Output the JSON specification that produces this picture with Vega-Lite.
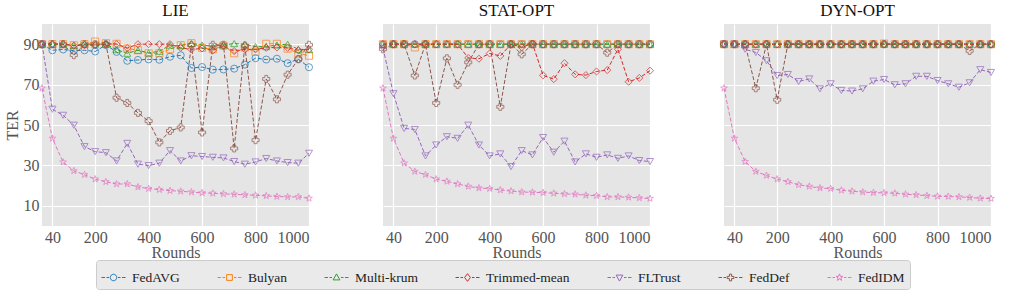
{
"$schema": "https://vega.github.io/schema/vega-lite/v6.json",
"padding": {"left": 4, "top": 2, "right": 4, "bottom": 4},
"bounds": "flush",
"spacing": 74,
"config": {
  "font": "Liberation Serif, Times New Roman, serif",
  "view": {"fill": "#e5e5e5", "stroke": null},
  "axis": {"labelFont": "Liberation Serif, Times New Roman, serif", "titleFont": "Liberation Serif, Times New Roman, serif", "labelFontSize": 16, "titleFontSize": 16, "labelColor": "#555555", "titleColor": "#555555", "titleFontWeight": "normal", "grid": true, "gridColor": "#ffffff", "gridWidth": 1.2, "domain": false, "ticks": false, "labelPadding": 3},
  "axisX": {"titlePadding": -1},
  "axisY": {"titlePadding": 3},
  "legend": {"labelFont": "Liberation Serif, Times New Roman, serif"},
  "title": {"font": "Liberation Serif, Times New Roman, serif", "fontSize": 17, "fontWeight": "normal", "color": "#111111", "offset": 4}
},
"data": {"values": [
{"panel":"LIE","method":"FedAVG","round":1,"ter":89.8},{"panel":"LIE","method":"FedAVG","round":40,"ter":87.0},{"panel":"LIE","method":"FedAVG","round":80,"ter":87.4},{"panel":"LIE","method":"FedAVG","round":120,"ter":86.8},{"panel":"LIE","method":"FedAVG","round":160,"ter":87.0},{"panel":"LIE","method":"FedAVG","round":200,"ter":86.4},{"panel":"LIE","method":"FedAVG","round":240,"ter":89.6},{"panel":"LIE","method":"FedAVG","round":280,"ter":86.2},{"panel":"LIE","method":"FedAVG","round":320,"ter":81.8},{"panel":"LIE","method":"FedAVG","round":360,"ter":82.2},{"panel":"LIE","method":"FedAVG","round":400,"ter":82.5},{"panel":"LIE","method":"FedAVG","round":440,"ter":82.3},{"panel":"LIE","method":"FedAVG","round":480,"ter":83.8},{"panel":"LIE","method":"FedAVG","round":520,"ter":84.5},{"panel":"LIE","method":"FedAVG","round":560,"ter":78.2},{"panel":"LIE","method":"FedAVG","round":600,"ter":78.7},{"panel":"LIE","method":"FedAVG","round":640,"ter":77.4},{"panel":"LIE","method":"FedAVG","round":680,"ter":77.5},{"panel":"LIE","method":"FedAVG","round":720,"ter":77.9},{"panel":"LIE","method":"FedAVG","round":760,"ter":79.9},{"panel":"LIE","method":"FedAVG","round":800,"ter":83.1},{"panel":"LIE","method":"FedAVG","round":840,"ter":82.4},{"panel":"LIE","method":"FedAVG","round":880,"ter":82.8},{"panel":"LIE","method":"FedAVG","round":920,"ter":80.6},{"panel":"LIE","method":"FedAVG","round":960,"ter":82.6},{"panel":"LIE","method":"FedAVG","round":1000,"ter":78.6},
{"panel":"LIE","method":"Bulyan","round":1,"ter":90.0},{"panel":"LIE","method":"Bulyan","round":40,"ter":90.0},{"panel":"LIE","method":"Bulyan","round":80,"ter":90.0},{"panel":"LIE","method":"Bulyan","round":120,"ter":89.5},{"panel":"LIE","method":"Bulyan","round":160,"ter":90.0},{"panel":"LIE","method":"Bulyan","round":200,"ter":91.3},{"panel":"LIE","method":"Bulyan","round":240,"ter":90.5},{"panel":"LIE","method":"Bulyan","round":280,"ter":90.2},{"panel":"LIE","method":"Bulyan","round":320,"ter":87.9},{"panel":"LIE","method":"Bulyan","round":360,"ter":87.0},{"panel":"LIE","method":"Bulyan","round":400,"ter":85.5},{"panel":"LIE","method":"Bulyan","round":440,"ter":85.5},{"panel":"LIE","method":"Bulyan","round":480,"ter":87.5},{"panel":"LIE","method":"Bulyan","round":520,"ter":89.5},{"panel":"LIE","method":"Bulyan","round":560,"ter":90.5},{"panel":"LIE","method":"Bulyan","round":600,"ter":88.2},{"panel":"LIE","method":"Bulyan","round":640,"ter":87.5},{"panel":"LIE","method":"Bulyan","round":680,"ter":89.3},{"panel":"LIE","method":"Bulyan","round":720,"ter":85.5},{"panel":"LIE","method":"Bulyan","round":760,"ter":88.3},{"panel":"LIE","method":"Bulyan","round":800,"ter":86.2},{"panel":"LIE","method":"Bulyan","round":840,"ter":90.2},{"panel":"LIE","method":"Bulyan","round":880,"ter":90.2},{"panel":"LIE","method":"Bulyan","round":920,"ter":87.8},{"panel":"LIE","method":"Bulyan","round":960,"ter":85.5},{"panel":"LIE","method":"Bulyan","round":1000,"ter":84.3},
{"panel":"LIE","method":"Multi-krum","round":1,"ter":90.0},{"panel":"LIE","method":"Multi-krum","round":40,"ter":90.0},{"panel":"LIE","method":"Multi-krum","round":80,"ter":90.0},{"panel":"LIE","method":"Multi-krum","round":120,"ter":89.3},{"panel":"LIE","method":"Multi-krum","round":160,"ter":90.0},{"panel":"LIE","method":"Multi-krum","round":200,"ter":90.0},{"panel":"LIE","method":"Multi-krum","round":240,"ter":90.0},{"panel":"LIE","method":"Multi-krum","round":280,"ter":87.3},{"panel":"LIE","method":"Multi-krum","round":320,"ter":85.5},{"panel":"LIE","method":"Multi-krum","round":360,"ter":87.0},{"panel":"LIE","method":"Multi-krum","round":400,"ter":85.7},{"panel":"LIE","method":"Multi-krum","round":440,"ter":86.5},{"panel":"LIE","method":"Multi-krum","round":480,"ter":89.5},{"panel":"LIE","method":"Multi-krum","round":520,"ter":89.3},{"panel":"LIE","method":"Multi-krum","round":560,"ter":90.4},{"panel":"LIE","method":"Multi-krum","round":600,"ter":89.6},{"panel":"LIE","method":"Multi-krum","round":640,"ter":89.0},{"panel":"LIE","method":"Multi-krum","round":680,"ter":89.6},{"panel":"LIE","method":"Multi-krum","round":720,"ter":90.3},{"panel":"LIE","method":"Multi-krum","round":760,"ter":90.0},{"panel":"LIE","method":"Multi-krum","round":800,"ter":88.8},{"panel":"LIE","method":"Multi-krum","round":840,"ter":88.8},{"panel":"LIE","method":"Multi-krum","round":880,"ter":89.6},{"panel":"LIE","method":"Multi-krum","round":920,"ter":90.0},{"panel":"LIE","method":"Multi-krum","round":960,"ter":87.5},{"panel":"LIE","method":"Multi-krum","round":1000,"ter":87.3},
{"panel":"LIE","method":"Trimmed-mean","round":1,"ter":90.0},{"panel":"LIE","method":"Trimmed-mean","round":40,"ter":90.0},{"panel":"LIE","method":"Trimmed-mean","round":80,"ter":90.0},{"panel":"LIE","method":"Trimmed-mean","round":120,"ter":89.3},{"panel":"LIE","method":"Trimmed-mean","round":160,"ter":89.6},{"panel":"LIE","method":"Trimmed-mean","round":200,"ter":89.5},{"panel":"LIE","method":"Trimmed-mean","round":240,"ter":90.0},{"panel":"LIE","method":"Trimmed-mean","round":280,"ter":90.0},{"panel":"LIE","method":"Trimmed-mean","round":320,"ter":88.1},{"panel":"LIE","method":"Trimmed-mean","round":360,"ter":90.0},{"panel":"LIE","method":"Trimmed-mean","round":400,"ter":90.0},{"panel":"LIE","method":"Trimmed-mean","round":440,"ter":90.0},{"panel":"LIE","method":"Trimmed-mean","round":480,"ter":90.0},{"panel":"LIE","method":"Trimmed-mean","round":520,"ter":88.2},{"panel":"LIE","method":"Trimmed-mean","round":560,"ter":87.4},{"panel":"LIE","method":"Trimmed-mean","round":600,"ter":87.9},{"panel":"LIE","method":"Trimmed-mean","round":640,"ter":86.9},{"panel":"LIE","method":"Trimmed-mean","round":680,"ter":89.0},{"panel":"LIE","method":"Trimmed-mean","round":720,"ter":86.6},{"panel":"LIE","method":"Trimmed-mean","round":760,"ter":87.5},{"panel":"LIE","method":"Trimmed-mean","round":800,"ter":87.4},{"panel":"LIE","method":"Trimmed-mean","round":840,"ter":88.2},{"panel":"LIE","method":"Trimmed-mean","round":880,"ter":88.4},{"panel":"LIE","method":"Trimmed-mean","round":920,"ter":88.2},{"panel":"LIE","method":"Trimmed-mean","round":960,"ter":87.0},{"panel":"LIE","method":"Trimmed-mean","round":1000,"ter":87.5},
{"panel":"LIE","method":"FLTrust","round":1,"ter":90.0},{"panel":"LIE","method":"FLTrust","round":40,"ter":57.8},{"panel":"LIE","method":"FLTrust","round":80,"ter":54.8},{"panel":"LIE","method":"FLTrust","round":120,"ter":49.9},{"panel":"LIE","method":"FLTrust","round":160,"ter":39.3},{"panel":"LIE","method":"FLTrust","round":200,"ter":36.8},{"panel":"LIE","method":"FLTrust","round":240,"ter":36.3},{"panel":"LIE","method":"FLTrust","round":280,"ter":32.2},{"panel":"LIE","method":"FLTrust","round":320,"ter":40.9},{"panel":"LIE","method":"FLTrust","round":360,"ter":30.6},{"panel":"LIE","method":"FLTrust","round":400,"ter":29.9},{"panel":"LIE","method":"FLTrust","round":440,"ter":31.1},{"panel":"LIE","method":"FLTrust","round":480,"ter":37.3},{"panel":"LIE","method":"FLTrust","round":520,"ter":32.2},{"panel":"LIE","method":"FLTrust","round":560,"ter":34.8},{"panel":"LIE","method":"FLTrust","round":600,"ter":34.4},{"panel":"LIE","method":"FLTrust","round":640,"ter":34.0},{"panel":"LIE","method":"FLTrust","round":680,"ter":33.7},{"panel":"LIE","method":"FLTrust","round":720,"ter":31.9},{"panel":"LIE","method":"FLTrust","round":760,"ter":30.6},{"panel":"LIE","method":"FLTrust","round":800,"ter":31.7},{"panel":"LIE","method":"FLTrust","round":840,"ter":33.4},{"panel":"LIE","method":"FLTrust","round":880,"ter":32.2},{"panel":"LIE","method":"FLTrust","round":920,"ter":31.4},{"panel":"LIE","method":"FLTrust","round":960,"ter":31.1},{"panel":"LIE","method":"FLTrust","round":1000,"ter":36.0},
{"panel":"LIE","method":"FedDef","round":1,"ter":90.0},{"panel":"LIE","method":"FedDef","round":40,"ter":90.0},{"panel":"LIE","method":"FedDef","round":80,"ter":90.0},{"panel":"LIE","method":"FedDef","round":120,"ter":84.6},{"panel":"LIE","method":"FedDef","round":160,"ter":90.0},{"panel":"LIE","method":"FedDef","round":200,"ter":90.0},{"panel":"LIE","method":"FedDef","round":240,"ter":90.0},{"panel":"LIE","method":"FedDef","round":280,"ter":63.5},{"panel":"LIE","method":"FedDef","round":320,"ter":60.9},{"panel":"LIE","method":"FedDef","round":360,"ter":56.0},{"panel":"LIE","method":"FedDef","round":400,"ter":51.9},{"panel":"LIE","method":"FedDef","round":440,"ter":41.4},{"panel":"LIE","method":"FedDef","round":480,"ter":47.1},{"panel":"LIE","method":"FedDef","round":520,"ter":48.8},{"panel":"LIE","method":"FedDef","round":560,"ter":89.5},{"panel":"LIE","method":"FedDef","round":600,"ter":46.3},{"panel":"LIE","method":"FedDef","round":640,"ter":89.7},{"panel":"LIE","method":"FedDef","round":680,"ter":89.7},{"panel":"LIE","method":"FedDef","round":720,"ter":38.4},{"panel":"LIE","method":"FedDef","round":760,"ter":89.3},{"panel":"LIE","method":"FedDef","round":800,"ter":42.5},{"panel":"LIE","method":"FedDef","round":840,"ter":72.8},{"panel":"LIE","method":"FedDef","round":880,"ter":62.7},{"panel":"LIE","method":"FedDef","round":920,"ter":74.9},{"panel":"LIE","method":"FedDef","round":960,"ter":82.6},{"panel":"LIE","method":"FedDef","round":1000,"ter":89.7},
{"panel":"LIE","method":"FedIDM","round":1,"ter":68.2},{"panel":"LIE","method":"FedIDM","round":40,"ter":43.4},{"panel":"LIE","method":"FedIDM","round":80,"ter":31.6},{"panel":"LIE","method":"FedIDM","round":120,"ter":27.3},{"panel":"LIE","method":"FedIDM","round":160,"ter":25.4},{"panel":"LIE","method":"FedIDM","round":200,"ter":23.2},{"panel":"LIE","method":"FedIDM","round":240,"ter":21.9},{"panel":"LIE","method":"FedIDM","round":280,"ter":20.8},{"panel":"LIE","method":"FedIDM","round":320,"ter":20.8},{"panel":"LIE","method":"FedIDM","round":360,"ter":19.3},{"panel":"LIE","method":"FedIDM","round":400,"ter":18.5},{"panel":"LIE","method":"FedIDM","round":440,"ter":18.0},{"panel":"LIE","method":"FedIDM","round":480,"ter":17.5},{"panel":"LIE","method":"FedIDM","round":520,"ter":17.2},{"panel":"LIE","method":"FedIDM","round":560,"ter":16.8},{"panel":"LIE","method":"FedIDM","round":600,"ter":16.4},{"panel":"LIE","method":"FedIDM","round":640,"ter":16.2},{"panel":"LIE","method":"FedIDM","round":680,"ter":15.9},{"panel":"LIE","method":"FedIDM","round":720,"ter":15.7},{"panel":"LIE","method":"FedIDM","round":760,"ter":15.4},{"panel":"LIE","method":"FedIDM","round":800,"ter":15.2},{"panel":"LIE","method":"FedIDM","round":840,"ter":14.9},{"panel":"LIE","method":"FedIDM","round":880,"ter":14.6},{"panel":"LIE","method":"FedIDM","round":920,"ter":14.4},{"panel":"LIE","method":"FedIDM","round":960,"ter":14.4},{"panel":"LIE","method":"FedIDM","round":1000,"ter":13.7},
{"panel":"STAT-OPT","method":"FedAVG","round":1,"ter":90.0},{"panel":"STAT-OPT","method":"FedAVG","round":40,"ter":90.0},{"panel":"STAT-OPT","method":"FedAVG","round":80,"ter":90.0},{"panel":"STAT-OPT","method":"FedAVG","round":120,"ter":90.0},{"panel":"STAT-OPT","method":"FedAVG","round":160,"ter":90.0},{"panel":"STAT-OPT","method":"FedAVG","round":200,"ter":90.0},{"panel":"STAT-OPT","method":"FedAVG","round":240,"ter":90.0},{"panel":"STAT-OPT","method":"FedAVG","round":280,"ter":90.0},{"panel":"STAT-OPT","method":"FedAVG","round":320,"ter":90.0},{"panel":"STAT-OPT","method":"FedAVG","round":360,"ter":90.0},{"panel":"STAT-OPT","method":"FedAVG","round":400,"ter":90.0},{"panel":"STAT-OPT","method":"FedAVG","round":440,"ter":90.0},{"panel":"STAT-OPT","method":"FedAVG","round":480,"ter":90.0},{"panel":"STAT-OPT","method":"FedAVG","round":520,"ter":90.0},{"panel":"STAT-OPT","method":"FedAVG","round":560,"ter":90.0},{"panel":"STAT-OPT","method":"FedAVG","round":600,"ter":90.0},{"panel":"STAT-OPT","method":"FedAVG","round":640,"ter":90.0},{"panel":"STAT-OPT","method":"FedAVG","round":680,"ter":90.0},{"panel":"STAT-OPT","method":"FedAVG","round":720,"ter":90.0},{"panel":"STAT-OPT","method":"FedAVG","round":760,"ter":90.0},{"panel":"STAT-OPT","method":"FedAVG","round":800,"ter":90.0},{"panel":"STAT-OPT","method":"FedAVG","round":840,"ter":90.0},{"panel":"STAT-OPT","method":"FedAVG","round":880,"ter":90.0},{"panel":"STAT-OPT","method":"FedAVG","round":920,"ter":90.0},{"panel":"STAT-OPT","method":"FedAVG","round":960,"ter":90.0},{"panel":"STAT-OPT","method":"FedAVG","round":1000,"ter":90.0},
{"panel":"STAT-OPT","method":"Bulyan","round":1,"ter":90.0},{"panel":"STAT-OPT","method":"Bulyan","round":40,"ter":90.0},{"panel":"STAT-OPT","method":"Bulyan","round":80,"ter":90.0},{"panel":"STAT-OPT","method":"Bulyan","round":120,"ter":88.4},{"panel":"STAT-OPT","method":"Bulyan","round":160,"ter":90.0},{"panel":"STAT-OPT","method":"Bulyan","round":200,"ter":90.0},{"panel":"STAT-OPT","method":"Bulyan","round":240,"ter":90.0},{"panel":"STAT-OPT","method":"Bulyan","round":280,"ter":90.0},{"panel":"STAT-OPT","method":"Bulyan","round":320,"ter":90.0},{"panel":"STAT-OPT","method":"Bulyan","round":360,"ter":90.0},{"panel":"STAT-OPT","method":"Bulyan","round":400,"ter":90.0},{"panel":"STAT-OPT","method":"Bulyan","round":440,"ter":90.0},{"panel":"STAT-OPT","method":"Bulyan","round":480,"ter":90.0},{"panel":"STAT-OPT","method":"Bulyan","round":520,"ter":90.0},{"panel":"STAT-OPT","method":"Bulyan","round":560,"ter":90.0},{"panel":"STAT-OPT","method":"Bulyan","round":600,"ter":90.0},{"panel":"STAT-OPT","method":"Bulyan","round":640,"ter":90.0},{"panel":"STAT-OPT","method":"Bulyan","round":680,"ter":90.0},{"panel":"STAT-OPT","method":"Bulyan","round":720,"ter":90.0},{"panel":"STAT-OPT","method":"Bulyan","round":760,"ter":90.0},{"panel":"STAT-OPT","method":"Bulyan","round":800,"ter":90.0},{"panel":"STAT-OPT","method":"Bulyan","round":840,"ter":90.0},{"panel":"STAT-OPT","method":"Bulyan","round":880,"ter":90.0},{"panel":"STAT-OPT","method":"Bulyan","round":920,"ter":90.0},{"panel":"STAT-OPT","method":"Bulyan","round":960,"ter":90.0},{"panel":"STAT-OPT","method":"Bulyan","round":1000,"ter":90.0},
{"panel":"STAT-OPT","method":"Multi-krum","round":1,"ter":90.0},{"panel":"STAT-OPT","method":"Multi-krum","round":40,"ter":90.0},{"panel":"STAT-OPT","method":"Multi-krum","round":80,"ter":90.0},{"panel":"STAT-OPT","method":"Multi-krum","round":120,"ter":90.0},{"panel":"STAT-OPT","method":"Multi-krum","round":160,"ter":90.0},{"panel":"STAT-OPT","method":"Multi-krum","round":200,"ter":90.0},{"panel":"STAT-OPT","method":"Multi-krum","round":240,"ter":90.0},{"panel":"STAT-OPT","method":"Multi-krum","round":280,"ter":90.0},{"panel":"STAT-OPT","method":"Multi-krum","round":320,"ter":90.0},{"panel":"STAT-OPT","method":"Multi-krum","round":360,"ter":90.0},{"panel":"STAT-OPT","method":"Multi-krum","round":400,"ter":90.0},{"panel":"STAT-OPT","method":"Multi-krum","round":440,"ter":90.0},{"panel":"STAT-OPT","method":"Multi-krum","round":480,"ter":90.0},{"panel":"STAT-OPT","method":"Multi-krum","round":520,"ter":90.0},{"panel":"STAT-OPT","method":"Multi-krum","round":560,"ter":90.0},{"panel":"STAT-OPT","method":"Multi-krum","round":600,"ter":90.0},{"panel":"STAT-OPT","method":"Multi-krum","round":640,"ter":90.0},{"panel":"STAT-OPT","method":"Multi-krum","round":680,"ter":90.0},{"panel":"STAT-OPT","method":"Multi-krum","round":720,"ter":90.0},{"panel":"STAT-OPT","method":"Multi-krum","round":760,"ter":90.0},{"panel":"STAT-OPT","method":"Multi-krum","round":800,"ter":90.0},{"panel":"STAT-OPT","method":"Multi-krum","round":840,"ter":90.0},{"panel":"STAT-OPT","method":"Multi-krum","round":880,"ter":90.0},{"panel":"STAT-OPT","method":"Multi-krum","round":920,"ter":90.0},{"panel":"STAT-OPT","method":"Multi-krum","round":960,"ter":90.0},{"panel":"STAT-OPT","method":"Multi-krum","round":1000,"ter":90.0},
{"panel":"STAT-OPT","method":"Trimmed-mean","round":1,"ter":90.0},{"panel":"STAT-OPT","method":"Trimmed-mean","round":40,"ter":90.0},{"panel":"STAT-OPT","method":"Trimmed-mean","round":80,"ter":90.0},{"panel":"STAT-OPT","method":"Trimmed-mean","round":120,"ter":90.0},{"panel":"STAT-OPT","method":"Trimmed-mean","round":160,"ter":90.0},{"panel":"STAT-OPT","method":"Trimmed-mean","round":200,"ter":90.0},{"panel":"STAT-OPT","method":"Trimmed-mean","round":240,"ter":90.0},{"panel":"STAT-OPT","method":"Trimmed-mean","round":280,"ter":90.0},{"panel":"STAT-OPT","method":"Trimmed-mean","round":320,"ter":83.2},{"panel":"STAT-OPT","method":"Trimmed-mean","round":360,"ter":82.8},{"panel":"STAT-OPT","method":"Trimmed-mean","round":400,"ter":85.4},{"panel":"STAT-OPT","method":"Trimmed-mean","round":440,"ter":84.2},{"panel":"STAT-OPT","method":"Trimmed-mean","round":480,"ter":90.0},{"panel":"STAT-OPT","method":"Trimmed-mean","round":520,"ter":88.5},{"panel":"STAT-OPT","method":"Trimmed-mean","round":560,"ter":90.3},{"panel":"STAT-OPT","method":"Trimmed-mean","round":600,"ter":74.6},{"panel":"STAT-OPT","method":"Trimmed-mean","round":640,"ter":72.7},{"panel":"STAT-OPT","method":"Trimmed-mean","round":680,"ter":80.6},{"panel":"STAT-OPT","method":"Trimmed-mean","round":720,"ter":75.1},{"panel":"STAT-OPT","method":"Trimmed-mean","round":760,"ter":74.7},{"panel":"STAT-OPT","method":"Trimmed-mean","round":800,"ter":76.5},{"panel":"STAT-OPT","method":"Trimmed-mean","round":840,"ter":77.2},{"panel":"STAT-OPT","method":"Trimmed-mean","round":880,"ter":87.5},{"panel":"STAT-OPT","method":"Trimmed-mean","round":920,"ter":71.4},{"panel":"STAT-OPT","method":"Trimmed-mean","round":960,"ter":73.3},{"panel":"STAT-OPT","method":"Trimmed-mean","round":1000,"ter":76.9},
{"panel":"STAT-OPT","method":"FLTrust","round":1,"ter":88.0},{"panel":"STAT-OPT","method":"FLTrust","round":40,"ter":65.5},{"panel":"STAT-OPT","method":"FLTrust","round":80,"ter":48.3},{"panel":"STAT-OPT","method":"FLTrust","round":120,"ter":47.8},{"panel":"STAT-OPT","method":"FLTrust","round":160,"ter":34.7},{"panel":"STAT-OPT","method":"FLTrust","round":200,"ter":40.1},{"panel":"STAT-OPT","method":"FLTrust","round":240,"ter":44.2},{"panel":"STAT-OPT","method":"FLTrust","round":280,"ter":43.4},{"panel":"STAT-OPT","method":"FLTrust","round":320,"ter":49.9},{"panel":"STAT-OPT","method":"FLTrust","round":360,"ter":40.1},{"panel":"STAT-OPT","method":"FLTrust","round":400,"ter":34.7},{"panel":"STAT-OPT","method":"FLTrust","round":440,"ter":35.7},{"panel":"STAT-OPT","method":"FLTrust","round":480,"ter":29.4},{"panel":"STAT-OPT","method":"FLTrust","round":520,"ter":37.3},{"panel":"STAT-OPT","method":"FLTrust","round":560,"ter":35.2},{"panel":"STAT-OPT","method":"FLTrust","round":600,"ter":43.8},{"panel":"STAT-OPT","method":"FLTrust","round":640,"ter":36.5},{"panel":"STAT-OPT","method":"FLTrust","round":680,"ter":42.0},{"panel":"STAT-OPT","method":"FLTrust","round":720,"ter":31.7},{"panel":"STAT-OPT","method":"FLTrust","round":760,"ter":35.7},{"panel":"STAT-OPT","method":"FLTrust","round":800,"ter":34.0},{"panel":"STAT-OPT","method":"FLTrust","round":840,"ter":35.2},{"panel":"STAT-OPT","method":"FLTrust","round":880,"ter":33.5},{"panel":"STAT-OPT","method":"FLTrust","round":920,"ter":34.7},{"panel":"STAT-OPT","method":"FLTrust","round":960,"ter":32.4},{"panel":"STAT-OPT","method":"FLTrust","round":1000,"ter":31.9},
{"panel":"STAT-OPT","method":"FedDef","round":1,"ter":87.5},{"panel":"STAT-OPT","method":"FedDef","round":40,"ter":90.0},{"panel":"STAT-OPT","method":"FedDef","round":80,"ter":90.0},{"panel":"STAT-OPT","method":"FedDef","round":120,"ter":74.5},{"panel":"STAT-OPT","method":"FedDef","round":160,"ter":90.0},{"panel":"STAT-OPT","method":"FedDef","round":200,"ter":60.9},{"panel":"STAT-OPT","method":"FedDef","round":240,"ter":83.0},{"panel":"STAT-OPT","method":"FedDef","round":280,"ter":69.9},{"panel":"STAT-OPT","method":"FedDef","round":320,"ter":81.0},{"panel":"STAT-OPT","method":"FedDef","round":360,"ter":90.0},{"panel":"STAT-OPT","method":"FedDef","round":400,"ter":90.0},{"panel":"STAT-OPT","method":"FedDef","round":440,"ter":59.0},{"panel":"STAT-OPT","method":"FedDef","round":480,"ter":90.0},{"panel":"STAT-OPT","method":"FedDef","round":520,"ter":85.0},{"panel":"STAT-OPT","method":"FedDef","round":560,"ter":90.0},{"panel":"STAT-OPT","method":"FedDef","round":600,"ter":90.0},{"panel":"STAT-OPT","method":"FedDef","round":640,"ter":90.0},{"panel":"STAT-OPT","method":"FedDef","round":680,"ter":90.0},{"panel":"STAT-OPT","method":"FedDef","round":720,"ter":90.0},{"panel":"STAT-OPT","method":"FedDef","round":760,"ter":90.0},{"panel":"STAT-OPT","method":"FedDef","round":800,"ter":90.0},{"panel":"STAT-OPT","method":"FedDef","round":840,"ter":85.8},{"panel":"STAT-OPT","method":"FedDef","round":880,"ter":90.0},{"panel":"STAT-OPT","method":"FedDef","round":920,"ter":90.0},{"panel":"STAT-OPT","method":"FedDef","round":960,"ter":90.0},{"panel":"STAT-OPT","method":"FedDef","round":1000,"ter":90.0},
{"panel":"STAT-OPT","method":"FedIDM","round":1,"ter":68.2},{"panel":"STAT-OPT","method":"FedIDM","round":40,"ter":43.4},{"panel":"STAT-OPT","method":"FedIDM","round":80,"ter":31.1},{"panel":"STAT-OPT","method":"FedIDM","round":120,"ter":27.0},{"panel":"STAT-OPT","method":"FedIDM","round":160,"ter":25.4},{"panel":"STAT-OPT","method":"FedIDM","round":200,"ter":23.2},{"panel":"STAT-OPT","method":"FedIDM","round":240,"ter":22.1},{"panel":"STAT-OPT","method":"FedIDM","round":280,"ter":20.8},{"panel":"STAT-OPT","method":"FedIDM","round":320,"ter":19.6},{"panel":"STAT-OPT","method":"FedIDM","round":360,"ter":18.8},{"panel":"STAT-OPT","method":"FedIDM","round":400,"ter":18.5},{"panel":"STAT-OPT","method":"FedIDM","round":440,"ter":17.8},{"panel":"STAT-OPT","method":"FedIDM","round":480,"ter":17.3},{"panel":"STAT-OPT","method":"FedIDM","round":520,"ter":16.8},{"panel":"STAT-OPT","method":"FedIDM","round":560,"ter":16.7},{"panel":"STAT-OPT","method":"FedIDM","round":600,"ter":16.5},{"panel":"STAT-OPT","method":"FedIDM","round":640,"ter":16.2},{"panel":"STAT-OPT","method":"FedIDM","round":680,"ter":15.9},{"panel":"STAT-OPT","method":"FedIDM","round":720,"ter":15.7},{"panel":"STAT-OPT","method":"FedIDM","round":760,"ter":15.2},{"panel":"STAT-OPT","method":"FedIDM","round":800,"ter":15.0},{"panel":"STAT-OPT","method":"FedIDM","round":840,"ter":14.4},{"panel":"STAT-OPT","method":"FedIDM","round":880,"ter":14.4},{"panel":"STAT-OPT","method":"FedIDM","round":920,"ter":14.2},{"panel":"STAT-OPT","method":"FedIDM","round":960,"ter":13.9},{"panel":"STAT-OPT","method":"FedIDM","round":1000,"ter":13.6},
{"panel":"DYN-OPT","method":"FedAVG","round":1,"ter":90.0},{"panel":"DYN-OPT","method":"FedAVG","round":40,"ter":90.0},{"panel":"DYN-OPT","method":"FedAVG","round":80,"ter":90.0},{"panel":"DYN-OPT","method":"FedAVG","round":120,"ter":90.0},{"panel":"DYN-OPT","method":"FedAVG","round":160,"ter":90.0},{"panel":"DYN-OPT","method":"FedAVG","round":200,"ter":90.0},{"panel":"DYN-OPT","method":"FedAVG","round":240,"ter":90.0},{"panel":"DYN-OPT","method":"FedAVG","round":280,"ter":90.0},{"panel":"DYN-OPT","method":"FedAVG","round":320,"ter":90.0},{"panel":"DYN-OPT","method":"FedAVG","round":360,"ter":90.0},{"panel":"DYN-OPT","method":"FedAVG","round":400,"ter":90.0},{"panel":"DYN-OPT","method":"FedAVG","round":440,"ter":90.0},{"panel":"DYN-OPT","method":"FedAVG","round":480,"ter":90.0},{"panel":"DYN-OPT","method":"FedAVG","round":520,"ter":90.0},{"panel":"DYN-OPT","method":"FedAVG","round":560,"ter":90.0},{"panel":"DYN-OPT","method":"FedAVG","round":600,"ter":90.0},{"panel":"DYN-OPT","method":"FedAVG","round":640,"ter":90.0},{"panel":"DYN-OPT","method":"FedAVG","round":680,"ter":90.0},{"panel":"DYN-OPT","method":"FedAVG","round":720,"ter":90.0},{"panel":"DYN-OPT","method":"FedAVG","round":760,"ter":90.0},{"panel":"DYN-OPT","method":"FedAVG","round":800,"ter":90.0},{"panel":"DYN-OPT","method":"FedAVG","round":840,"ter":90.0},{"panel":"DYN-OPT","method":"FedAVG","round":880,"ter":90.0},{"panel":"DYN-OPT","method":"FedAVG","round":920,"ter":90.0},{"panel":"DYN-OPT","method":"FedAVG","round":960,"ter":90.0},{"panel":"DYN-OPT","method":"FedAVG","round":1000,"ter":90.0},
{"panel":"DYN-OPT","method":"Bulyan","round":1,"ter":90.0},{"panel":"DYN-OPT","method":"Bulyan","round":40,"ter":90.0},{"panel":"DYN-OPT","method":"Bulyan","round":80,"ter":90.0},{"panel":"DYN-OPT","method":"Bulyan","round":120,"ter":90.0},{"panel":"DYN-OPT","method":"Bulyan","round":160,"ter":90.0},{"panel":"DYN-OPT","method":"Bulyan","round":200,"ter":90.0},{"panel":"DYN-OPT","method":"Bulyan","round":240,"ter":90.0},{"panel":"DYN-OPT","method":"Bulyan","round":280,"ter":90.0},{"panel":"DYN-OPT","method":"Bulyan","round":320,"ter":90.0},{"panel":"DYN-OPT","method":"Bulyan","round":360,"ter":90.0},{"panel":"DYN-OPT","method":"Bulyan","round":400,"ter":90.0},{"panel":"DYN-OPT","method":"Bulyan","round":440,"ter":90.0},{"panel":"DYN-OPT","method":"Bulyan","round":480,"ter":90.0},{"panel":"DYN-OPT","method":"Bulyan","round":520,"ter":90.0},{"panel":"DYN-OPT","method":"Bulyan","round":560,"ter":90.0},{"panel":"DYN-OPT","method":"Bulyan","round":600,"ter":90.3},{"panel":"DYN-OPT","method":"Bulyan","round":640,"ter":90.0},{"panel":"DYN-OPT","method":"Bulyan","round":680,"ter":90.0},{"panel":"DYN-OPT","method":"Bulyan","round":720,"ter":90.0},{"panel":"DYN-OPT","method":"Bulyan","round":760,"ter":90.0},{"panel":"DYN-OPT","method":"Bulyan","round":800,"ter":90.0},{"panel":"DYN-OPT","method":"Bulyan","round":840,"ter":90.0},{"panel":"DYN-OPT","method":"Bulyan","round":880,"ter":90.0},{"panel":"DYN-OPT","method":"Bulyan","round":920,"ter":90.0},{"panel":"DYN-OPT","method":"Bulyan","round":960,"ter":90.0},{"panel":"DYN-OPT","method":"Bulyan","round":1000,"ter":90.0},
{"panel":"DYN-OPT","method":"Multi-krum","round":1,"ter":90.0},{"panel":"DYN-OPT","method":"Multi-krum","round":40,"ter":90.0},{"panel":"DYN-OPT","method":"Multi-krum","round":80,"ter":90.0},{"panel":"DYN-OPT","method":"Multi-krum","round":120,"ter":90.0},{"panel":"DYN-OPT","method":"Multi-krum","round":160,"ter":90.0},{"panel":"DYN-OPT","method":"Multi-krum","round":200,"ter":90.0},{"panel":"DYN-OPT","method":"Multi-krum","round":240,"ter":90.0},{"panel":"DYN-OPT","method":"Multi-krum","round":280,"ter":90.0},{"panel":"DYN-OPT","method":"Multi-krum","round":320,"ter":90.0},{"panel":"DYN-OPT","method":"Multi-krum","round":360,"ter":90.0},{"panel":"DYN-OPT","method":"Multi-krum","round":400,"ter":90.0},{"panel":"DYN-OPT","method":"Multi-krum","round":440,"ter":90.0},{"panel":"DYN-OPT","method":"Multi-krum","round":480,"ter":90.0},{"panel":"DYN-OPT","method":"Multi-krum","round":520,"ter":90.0},{"panel":"DYN-OPT","method":"Multi-krum","round":560,"ter":90.0},{"panel":"DYN-OPT","method":"Multi-krum","round":600,"ter":90.0},{"panel":"DYN-OPT","method":"Multi-krum","round":640,"ter":90.0},{"panel":"DYN-OPT","method":"Multi-krum","round":680,"ter":90.0},{"panel":"DYN-OPT","method":"Multi-krum","round":720,"ter":90.0},{"panel":"DYN-OPT","method":"Multi-krum","round":760,"ter":90.0},{"panel":"DYN-OPT","method":"Multi-krum","round":800,"ter":90.0},{"panel":"DYN-OPT","method":"Multi-krum","round":840,"ter":90.0},{"panel":"DYN-OPT","method":"Multi-krum","round":880,"ter":90.0},{"panel":"DYN-OPT","method":"Multi-krum","round":920,"ter":90.0},{"panel":"DYN-OPT","method":"Multi-krum","round":960,"ter":90.0},{"panel":"DYN-OPT","method":"Multi-krum","round":1000,"ter":90.0},
{"panel":"DYN-OPT","method":"Trimmed-mean","round":1,"ter":90.0},{"panel":"DYN-OPT","method":"Trimmed-mean","round":40,"ter":90.0},{"panel":"DYN-OPT","method":"Trimmed-mean","round":80,"ter":90.0},{"panel":"DYN-OPT","method":"Trimmed-mean","round":120,"ter":90.0},{"panel":"DYN-OPT","method":"Trimmed-mean","round":160,"ter":90.0},{"panel":"DYN-OPT","method":"Trimmed-mean","round":200,"ter":90.0},{"panel":"DYN-OPT","method":"Trimmed-mean","round":240,"ter":90.0},{"panel":"DYN-OPT","method":"Trimmed-mean","round":280,"ter":90.0},{"panel":"DYN-OPT","method":"Trimmed-mean","round":320,"ter":90.0},{"panel":"DYN-OPT","method":"Trimmed-mean","round":360,"ter":90.0},{"panel":"DYN-OPT","method":"Trimmed-mean","round":400,"ter":90.0},{"panel":"DYN-OPT","method":"Trimmed-mean","round":440,"ter":90.0},{"panel":"DYN-OPT","method":"Trimmed-mean","round":480,"ter":90.0},{"panel":"DYN-OPT","method":"Trimmed-mean","round":520,"ter":90.0},{"panel":"DYN-OPT","method":"Trimmed-mean","round":560,"ter":90.0},{"panel":"DYN-OPT","method":"Trimmed-mean","round":600,"ter":90.0},{"panel":"DYN-OPT","method":"Trimmed-mean","round":640,"ter":90.0},{"panel":"DYN-OPT","method":"Trimmed-mean","round":680,"ter":90.0},{"panel":"DYN-OPT","method":"Trimmed-mean","round":720,"ter":90.0},{"panel":"DYN-OPT","method":"Trimmed-mean","round":760,"ter":90.0},{"panel":"DYN-OPT","method":"Trimmed-mean","round":800,"ter":90.0},{"panel":"DYN-OPT","method":"Trimmed-mean","round":840,"ter":90.0},{"panel":"DYN-OPT","method":"Trimmed-mean","round":880,"ter":90.0},{"panel":"DYN-OPT","method":"Trimmed-mean","round":920,"ter":90.0},{"panel":"DYN-OPT","method":"Trimmed-mean","round":960,"ter":90.0},{"panel":"DYN-OPT","method":"Trimmed-mean","round":1000,"ter":90.0},
{"panel":"DYN-OPT","method":"FLTrust","round":1,"ter":90.0},{"panel":"DYN-OPT","method":"FLTrust","round":40,"ter":90.0},{"panel":"DYN-OPT","method":"FLTrust","round":80,"ter":87.5},{"panel":"DYN-OPT","method":"FLTrust","round":120,"ter":85.9},{"panel":"DYN-OPT","method":"FLTrust","round":160,"ter":81.8},{"panel":"DYN-OPT","method":"FLTrust","round":200,"ter":74.5},{"panel":"DYN-OPT","method":"FLTrust","round":240,"ter":75.0},{"panel":"DYN-OPT","method":"FLTrust","round":280,"ter":71.5},{"panel":"DYN-OPT","method":"FLTrust","round":320,"ter":72.8},{"panel":"DYN-OPT","method":"FLTrust","round":360,"ter":67.9},{"panel":"DYN-OPT","method":"FLTrust","round":400,"ter":70.4},{"panel":"DYN-OPT","method":"FLTrust","round":440,"ter":67.1},{"panel":"DYN-OPT","method":"FLTrust","round":480,"ter":66.8},{"panel":"DYN-OPT","method":"FLTrust","round":520,"ter":67.9},{"panel":"DYN-OPT","method":"FLTrust","round":560,"ter":71.7},{"panel":"DYN-OPT","method":"FLTrust","round":600,"ter":72.5},{"panel":"DYN-OPT","method":"FLTrust","round":640,"ter":69.9},{"panel":"DYN-OPT","method":"FLTrust","round":680,"ter":70.4},{"panel":"DYN-OPT","method":"FLTrust","round":720,"ter":74.1},{"panel":"DYN-OPT","method":"FLTrust","round":760,"ter":74.1},{"panel":"DYN-OPT","method":"FLTrust","round":800,"ter":72.0},{"panel":"DYN-OPT","method":"FLTrust","round":840,"ter":70.4},{"panel":"DYN-OPT","method":"FLTrust","round":880,"ter":68.7},{"panel":"DYN-OPT","method":"FLTrust","round":920,"ter":70.9},{"panel":"DYN-OPT","method":"FLTrust","round":960,"ter":77.4},{"panel":"DYN-OPT","method":"FLTrust","round":1000,"ter":76.0},
{"panel":"DYN-OPT","method":"FedDef","round":1,"ter":90.0},{"panel":"DYN-OPT","method":"FedDef","round":40,"ter":90.0},{"panel":"DYN-OPT","method":"FedDef","round":80,"ter":90.0},{"panel":"DYN-OPT","method":"FedDef","round":120,"ter":68.2},{"panel":"DYN-OPT","method":"FedDef","round":160,"ter":90.0},{"panel":"DYN-OPT","method":"FedDef","round":200,"ter":62.5},{"panel":"DYN-OPT","method":"FedDef","round":240,"ter":90.0},{"panel":"DYN-OPT","method":"FedDef","round":280,"ter":90.0},{"panel":"DYN-OPT","method":"FedDef","round":320,"ter":90.0},{"panel":"DYN-OPT","method":"FedDef","round":360,"ter":90.0},{"panel":"DYN-OPT","method":"FedDef","round":400,"ter":90.0},{"panel":"DYN-OPT","method":"FedDef","round":440,"ter":90.0},{"panel":"DYN-OPT","method":"FedDef","round":480,"ter":90.0},{"panel":"DYN-OPT","method":"FedDef","round":520,"ter":90.0},{"panel":"DYN-OPT","method":"FedDef","round":560,"ter":90.0},{"panel":"DYN-OPT","method":"FedDef","round":600,"ter":90.0},{"panel":"DYN-OPT","method":"FedDef","round":640,"ter":90.0},{"panel":"DYN-OPT","method":"FedDef","round":680,"ter":90.0},{"panel":"DYN-OPT","method":"FedDef","round":720,"ter":90.0},{"panel":"DYN-OPT","method":"FedDef","round":760,"ter":90.0},{"panel":"DYN-OPT","method":"FedDef","round":800,"ter":90.0},{"panel":"DYN-OPT","method":"FedDef","round":840,"ter":90.0},{"panel":"DYN-OPT","method":"FedDef","round":880,"ter":90.0},{"panel":"DYN-OPT","method":"FedDef","round":920,"ter":86.7},{"panel":"DYN-OPT","method":"FedDef","round":960,"ter":90.0},{"panel":"DYN-OPT","method":"FedDef","round":1000,"ter":90.0},
{"panel":"DYN-OPT","method":"FedIDM","round":1,"ter":68.2},{"panel":"DYN-OPT","method":"FedIDM","round":40,"ter":43.4},{"panel":"DYN-OPT","method":"FedIDM","round":80,"ter":31.9},{"panel":"DYN-OPT","method":"FedIDM","round":120,"ter":27.0},{"panel":"DYN-OPT","method":"FedIDM","round":160,"ter":25.0},{"panel":"DYN-OPT","method":"FedIDM","round":200,"ter":23.2},{"panel":"DYN-OPT","method":"FedIDM","round":240,"ter":21.9},{"panel":"DYN-OPT","method":"FedIDM","round":280,"ter":20.4},{"panel":"DYN-OPT","method":"FedIDM","round":320,"ter":19.6},{"panel":"DYN-OPT","method":"FedIDM","round":360,"ter":18.8},{"panel":"DYN-OPT","method":"FedIDM","round":400,"ter":18.5},{"panel":"DYN-OPT","method":"FedIDM","round":440,"ter":17.7},{"panel":"DYN-OPT","method":"FedIDM","round":480,"ter":17.2},{"panel":"DYN-OPT","method":"FedIDM","round":520,"ter":16.8},{"panel":"DYN-OPT","method":"FedIDM","round":560,"ter":16.5},{"panel":"DYN-OPT","method":"FedIDM","round":600,"ter":16.4},{"panel":"DYN-OPT","method":"FedIDM","round":640,"ter":16.2},{"panel":"DYN-OPT","method":"FedIDM","round":680,"ter":15.7},{"panel":"DYN-OPT","method":"FedIDM","round":720,"ter":15.4},{"panel":"DYN-OPT","method":"FedIDM","round":760,"ter":15.0},{"panel":"DYN-OPT","method":"FedIDM","round":800,"ter":14.7},{"panel":"DYN-OPT","method":"FedIDM","round":840,"ter":14.6},{"panel":"DYN-OPT","method":"FedIDM","round":880,"ter":14.4},{"panel":"DYN-OPT","method":"FedIDM","round":920,"ter":14.1},{"panel":"DYN-OPT","method":"FedIDM","round":960,"ter":13.7},{"panel":"DYN-OPT","method":"FedIDM","round":1000,"ter":13.6}
]},
"hconcat": [
 {"title": "LIE", "width": 267, "height": 202,
  "transform": [{"filter": "datum.panel === 'LIE'"}],
  "encoding": {
   "x": {"field": "round", "type": "quantitative", "scale": {"domain": [1, 1000], "nice": false, "zero": false}, "axis": {"values": [40, 200, 400, 600, 800, 1000], "format": "d", "title": "Rounds"}},
   "y": {"field": "ter", "type": "quantitative", "scale": {"domain": [0, 100], "nice": false}, "axis": {"values": [10, 30, 50, 70, 90], "format": "d", "title": "TER"}},
   "color": {"field": "method", "type": "nominal", "sort": null, "scale": {"domain": ["FedAVG", "Bulyan", "Multi-krum", "Trimmed-mean", "FLTrust", "FedDef", "FedIDM"], "range": ["#1f77b4", "#ff7f0e", "#2ca02c", "#d62728", "#9467bd", "#8c564b", "#e377c2"]},
     "legend": {"orient": "none", "legendX": 54, "legendY": 236, "direction": "horizontal", "title": null, "symbolSize": 576, "symbolStrokeWidth": 1, "symbolType": "circle", "labelFont": "Liberation Serif, Times New Roman, serif", "labelFontSize": 13.5, "labelFontWeight": "normal", "labelColor": "#222222", "fillColor": "#eaeaea", "strokeColor": "#cccccc", "cornerRadius": 3, "padding": 5, "columnPadding": 35, "labelOffset": 6,
      "encode": {"symbols": {"update": {"fill": {"value": "transparent"}, "stroke": {"scale": "color", "field": "value"}, "strokeWidth": {"value": 1}, "strokeDash": {"value": []}, "shape": {"signal": "datum.value === 'FedAVG' ? 'M-1,0H-0.71M-0.58,0H-0.375M0.375,0H0.58M0.71,0H1M0.27,0A0.27,0.27 0 1,1 -0.27,0A0.27,0.27 0 1,1 0.27,0Z' : datum.value === 'Bulyan' ? 'M-1,0H-0.71M-0.58,0H-0.375M0.375,0H0.58M0.71,0H1M-0.24,-0.24H0.24V0.24H-0.24Z' : datum.value === 'Multi-krum' ? 'M-1,0H-0.71M-0.58,0H-0.375M0.375,0H0.58M0.71,0H1M0,-0.3L0.28,0.2H-0.28Z' : datum.value === 'Trimmed-mean' ? 'M-1,0H-0.71M-0.58,0H-0.375M0.375,0H0.58M0.71,0H1M0,-0.32L0.24,0L0,0.32L-0.24,0Z' : datum.value === 'FLTrust' ? 'M-1,0H-0.71M-0.58,0H-0.375M0.375,0H0.58M0.71,0H1M0,0.3L0.28,-0.2H-0.28Z' : datum.value === 'FedDef' ? 'M-1,0H-0.71M-0.58,0H-0.375M0.375,0H0.58M0.71,0H1M-0.09,-0.28H0.09V-0.09H0.28V0.09H0.09V0.28H-0.09V0.09H-0.28V-0.09H-0.09Z' : 'M-1,0H-0.71M-0.58,0H-0.375M0.375,0H0.58M0.71,0H1M0,-0.3L0.071,-0.097L0.285,-0.093L0.114,0.037L0.176,0.243L0,0.12L-0.176,0.243L-0.114,0.037L-0.285,-0.093L-0.071,-0.097Z'"}}}}}}
  },
  "layer": [
   {"mark": {"type": "line", "strokeWidth": 1, "strokeDash": [4, 2]}},
   {"mark": {"type": "point", "filled": false, "size": 50, "strokeWidth": 1},
    "encoding": {"shape": {"condition": [{"test": "datum.method === 'FedAVG'", "value": "circle"}, {"test": "datum.method === 'Bulyan'", "value": "square"}, {"test": "datum.method === 'Multi-krum'", "value": "triangle-up"}, {"test": "datum.method === 'Trimmed-mean'", "value": "diamond"}, {"test": "datum.method === 'FLTrust'", "value": "triangle-down"}, {"test": "datum.method === 'FedDef'", "value": "cross"}], "value": "M0,-1L0.235,-0.324L0.951,-0.309L0.380,0.124L0.588,0.809L0,0.4L-0.588,0.809L-0.380,0.124L-0.951,-0.309L-0.235,-0.324Z"}}}
  ]
 },
 {"title": "STAT-OPT", "width": 267, "height": 202,
  "transform": [{"filter": "datum.panel === 'STAT-OPT'"}],
  "encoding": {
   "x": {"field": "round", "type": "quantitative", "scale": {"domain": [1, 1000], "nice": false, "zero": false}, "axis": {"values": [40, 200, 400, 600, 800, 1000], "format": "d", "title": "Rounds"}},
   "y": {"field": "ter", "type": "quantitative", "scale": {"domain": [0, 100], "nice": false}, "axis": {"values": [10, 30, 50, 70, 90], "title": null, "labels": false}},
   "color": {"field": "method", "type": "nominal", "sort": null, "scale": {"domain": ["FedAVG", "Bulyan", "Multi-krum", "Trimmed-mean", "FLTrust", "FedDef", "FedIDM"], "range": ["#1f77b4", "#ff7f0e", "#2ca02c", "#d62728", "#9467bd", "#8c564b", "#e377c2"]}}
  },
  "layer": [
   {"mark": {"type": "line", "strokeWidth": 1, "strokeDash": [4, 2]}},
   {"mark": {"type": "point", "filled": false, "size": 50, "strokeWidth": 1},
    "encoding": {"shape": {"condition": [{"test": "datum.method === 'FedAVG'", "value": "circle"}, {"test": "datum.method === 'Bulyan'", "value": "square"}, {"test": "datum.method === 'Multi-krum'", "value": "triangle-up"}, {"test": "datum.method === 'Trimmed-mean'", "value": "diamond"}, {"test": "datum.method === 'FLTrust'", "value": "triangle-down"}, {"test": "datum.method === 'FedDef'", "value": "cross"}], "value": "M0,-1L0.235,-0.324L0.951,-0.309L0.380,0.124L0.588,0.809L0,0.4L-0.588,0.809L-0.380,0.124L-0.951,-0.309L-0.235,-0.324Z"}}}
  ]
 },
 {"title": "DYN-OPT", "width": 267, "height": 202,
  "transform": [{"filter": "datum.panel === 'DYN-OPT'"}],
  "encoding": {
   "x": {"field": "round", "type": "quantitative", "scale": {"domain": [1, 1000], "nice": false, "zero": false}, "axis": {"values": [40, 200, 400, 600, 800, 1000], "format": "d", "title": "Rounds"}},
   "y": {"field": "ter", "type": "quantitative", "scale": {"domain": [0, 100], "nice": false}, "axis": {"values": [10, 30, 50, 70, 90], "title": null, "labels": false}},
   "color": {"field": "method", "type": "nominal", "sort": null, "scale": {"domain": ["FedAVG", "Bulyan", "Multi-krum", "Trimmed-mean", "FLTrust", "FedDef", "FedIDM"], "range": ["#1f77b4", "#ff7f0e", "#2ca02c", "#d62728", "#9467bd", "#8c564b", "#e377c2"]}}
  },
  "layer": [
   {"mark": {"type": "line", "strokeWidth": 1, "strokeDash": [4, 2]}},
   {"mark": {"type": "point", "filled": false, "size": 50, "strokeWidth": 1},
    "encoding": {"shape": {"condition": [{"test": "datum.method === 'FedAVG'", "value": "circle"}, {"test": "datum.method === 'Bulyan'", "value": "square"}, {"test": "datum.method === 'Multi-krum'", "value": "triangle-up"}, {"test": "datum.method === 'Trimmed-mean'", "value": "diamond"}, {"test": "datum.method === 'FLTrust'", "value": "triangle-down"}, {"test": "datum.method === 'FedDef'", "value": "cross"}], "value": "M0,-1L0.235,-0.324L0.951,-0.309L0.380,0.124L0.588,0.809L0,0.4L-0.588,0.809L-0.380,0.124L-0.951,-0.309L-0.235,-0.324Z"}}}
  ]
 }
],
"resolve": {"scale": {"color": "shared"}}
}
